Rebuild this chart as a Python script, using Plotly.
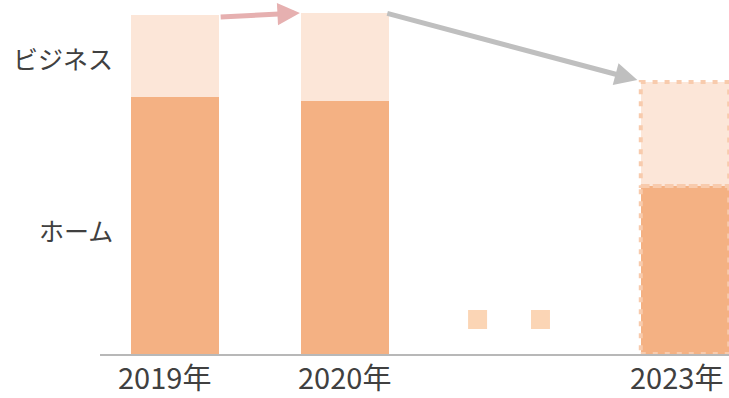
import plotly.graph_objects as go

# Data
years = ["2019年", "2020年", "2023年"]
x_pos = [0, 1, 3]
home = [257, 253, 168]
business = [82, 88, 104]
label_home = "ホーム"
label_business = "ビジネス"
ellipsis_x = [1.78, 2.15]
ellipsis_y = [34.5, 34.5]

HOME_C = "#F4B183"
BUS_C = "#FCE6D8"
BORDER_C = "#F8CBAD"
TEXT_C = "#404040"
FONT = "Noto Sans CJK JP, Noto Sans, sans-serif"
W = 0.52
FIG_H, MB = 398, 44
PLOT_H = FIG_H - MB

fig = go.Figure()
fig.add_trace(go.Bar(x=x_pos, y=home, width=W, marker=dict(color=HOME_C, line=dict(width=0)),
                     name=label_home, showlegend=False, hoverinfo="skip"))
fig.add_trace(go.Bar(x=x_pos, y=business, width=W, marker=dict(color=BUS_C, line=dict(width=0)),
                     name=label_business, showlegend=False, hoverinfo="skip"))
fig.add_trace(go.Scatter(x=ellipsis_x, y=ellipsis_y, mode="markers",
                         marker=dict(symbol="square", size=19, color="#FBD5B5", line=dict(width=0)),
                         showlegend=False, hoverinfo="skip"))

# dotted outline on the last (forecast) bar, both segments
xl, xr = x_pos[2] - W / 2, x_pos[2] + W / 2
for y0, y1 in [(0, home[2]), (home[2], home[2] + business[2])]:
    fig.add_shape(type="rect", xref="x", yref="y", x0=xl, x1=xr, y0=y0, y1=y1,
                  line=dict(color=BORDER_C, width=4, dash="5px,7px"), fillcolor="rgba(0,0,0,0)")

tot = [h + b for h, b in zip(home, business)]
# arrows
fig.add_annotation(x=x_pos[1] - W / 2 - 0.005, y=tot[1], ax=x_pos[0] + W / 2, ay=tot[0] - 2,
                   xref="x", yref="y", axref="x", ayref="y", showarrow=True, text="",
                   arrowhead=2, arrowsize=0.9, arrowwidth=5, arrowcolor="#E6B0B0")
fig.add_annotation(x=x_pos[2] - W / 2 - 0.02, y=tot[2] + 2, ax=x_pos[1] + W / 2 - 0.02, ay=tot[1],
                   xref="x", yref="y", axref="x", ayref="y", showarrow=True, text="",
                   arrowhead=2, arrowsize=0.9, arrowwidth=5, arrowcolor="#BFBFBF")

# segment labels
fig.add_annotation(x=-0.35, y=296, xref="x", yref="y", text=label_business,
                   showarrow=False, xanchor="right", yanchor="middle",
                   font=dict(size=25, color=TEXT_C, family=FONT))
fig.add_annotation(x=-0.35, y=124, xref="x", yref="y", text=label_home,
                   showarrow=False, xanchor="right", yanchor="middle",
                   font=dict(size=25, color=TEXT_C, family=FONT))

# category labels under the axis (box bottom sits on the figure's bottom edge)
label_shift = [-10, 0, -8]
for xp, lab, sh in zip(x_pos, years, label_shift):
    fig.add_annotation(x=xp, y=-MB / PLOT_H, xref="x", yref="paper", text=lab, showarrow=False,
                       xanchor="center", yanchor="bottom", xshift=sh,
                       borderpad=0, font=dict(size=29, color=TEXT_C, family=FONT))

fig.update_layout(
    width=729, height=FIG_H, barmode="stack",
    margin=dict(l=100, r=0, t=0, b=MB),
    plot_bgcolor="white", paper_bgcolor="white",
    font=dict(family=FONT, color=TEXT_C),
    xaxis=dict(range=[-0.441, 3.259], tickvals=x_pos, showticklabels=False, showgrid=False,
               zeroline=False, showline=True, linecolor="#B8B8B8", linewidth=1.5,
               ticks="", automargin=False),
    yaxis=dict(range=[0, PLOT_H], visible=False, showgrid=False, zeroline=False),
)

fig.write_html("out.html")
